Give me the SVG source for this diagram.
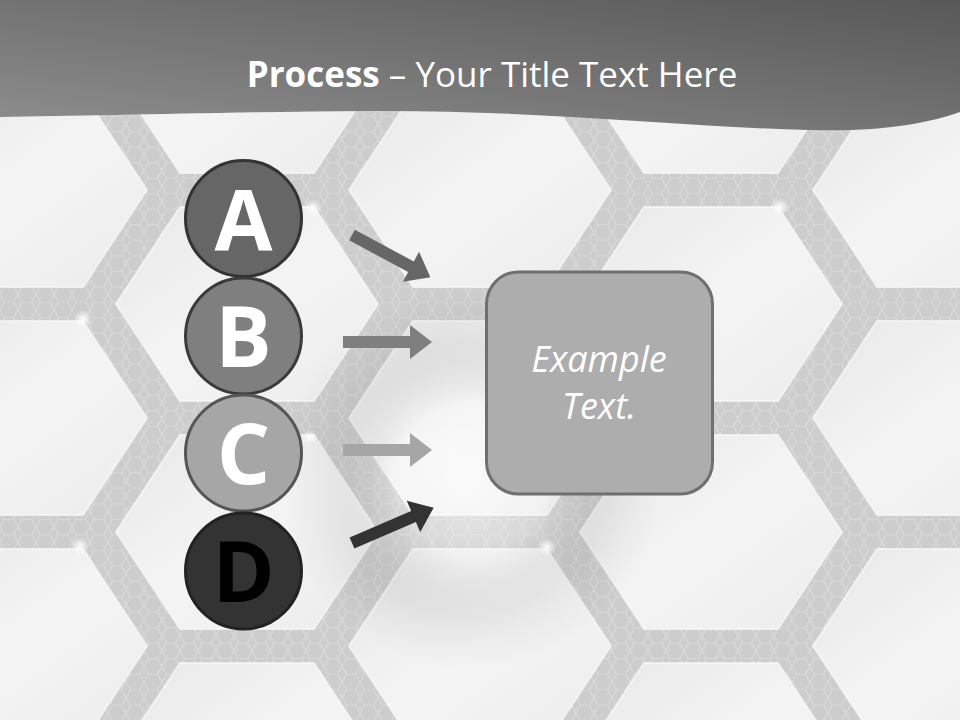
<svg xmlns="http://www.w3.org/2000/svg" xmlns:xlink="http://www.w3.org/1999/xlink" width="960" height="720" viewBox="0 0 960 720">
<style>
.cell{fill:url(#cellG);stroke:#fafafa;stroke-width:2;stroke-opacity:0.7}
.lbl{font-family:"Open Sans","Liberation Sans",sans-serif;font-weight:bold;font-size:84px;text-anchor:middle}
.circ{stroke-width:3}
.title{font-family:"Open Sans","Liberation Sans",sans-serif;font-size:35px;fill:#ffffff}
.box{fill:#adadad;stroke:#6f6f6f;stroke-width:3}
.btxt{font-family:"Open Sans","Liberation Sans",sans-serif;font-style:italic;font-size:36px;fill:#ffffff;text-anchor:middle}
</style>
<defs>
<linearGradient id="hdr" x1="0" y1="1" x2="1" y2="0">
<stop offset="0" stop-color="#8e8e8e"/>
<stop offset="1" stop-color="#585858"/>
</linearGradient>
<linearGradient id="cellG" x1="0" y1="0" x2="1" y2="1">
<stop offset="0" stop-color="#e8e8e8"/>
<stop offset="0.5" stop-color="#f4f4f4"/>
<stop offset="1" stop-color="#ececec"/>
</linearGradient>
<pattern id="honey" width="18" height="31" patternUnits="userSpaceOnUse">
<rect width="18" height="31" fill="#cdcdcd"/>
<path d="M0,0 L4.5,7.75 L13.5,7.75 L18,0 M4.5,7.75 L0,15.5 L4.5,23.25 L13.5,23.25 L18,15.5 L13.5,7.75 M4.5,23.25 L0,31 M13.5,23.25 L18,31" fill="none" stroke="#dadada" stroke-width="1.2"/>
</pattern>
<radialGradient id="swirl" cx="0.5" cy="0.5" r="0.5">
<stop offset="0" stop-color="#ffffff" stop-opacity="0.6"/>
<stop offset="0.4" stop-color="#ffffff" stop-opacity="0.2"/>
<stop offset="0.8" stop-color="#000000" stop-opacity="0.04"/>
<stop offset="1" stop-color="#000000" stop-opacity="0"/>
</radialGradient>
<radialGradient id="spark" cx="0.5" cy="0.5" r="0.5">
<stop offset="0" stop-color="#ffffff" stop-opacity="1"/>
<stop offset="1" stop-color="#ffffff" stop-opacity="0"/>
</radialGradient>
<path id="arr" d="M0,-6 H67 V-17 L89,0 L67,17 V6 H0 Z"/>
</defs>

<g id="background">
<rect width="960" height="720" fill="url(#honey)"/>
<g id="cells">
<polygon class="cell" points="-51,-135 83,-135 147,-38 83,59 -51,59 -115,-38"/>
<polygon class="cell" points="-51,93 83,93 147,190 83,287 -51,287 -115,190"/>
<polygon class="cell" points="-51,321 83,321 147,418 83,515 -51,515 -115,418"/>
<polygon class="cell" points="-51,549 83,549 147,646 83,743 -51,743 -115,646"/>
<polygon class="cell" points="413,-135 547,-135 611,-38 547,59 413,59 349,-38"/>
<polygon class="cell" points="413,93 547,93 611,190 547,287 413,287 349,190"/>
<polygon class="cell" points="413,321 547,321 611,418 547,515 413,515 349,418"/>
<polygon class="cell" points="413,549 547,549 611,646 547,743 413,743 349,646"/>
<polygon class="cell" points="877,-135 1011,-135 1075,-38 1011,59 877,59 813,-38"/>
<polygon class="cell" points="877,93 1011,93 1075,190 1011,287 877,287 813,190"/>
<polygon class="cell" points="877,321 1011,321 1075,418 1011,515 877,515 813,418"/>
<polygon class="cell" points="877,549 1011,549 1075,646 1011,743 877,743 813,646"/>
<polygon class="cell" points="180,-21 314,-21 378,76 314,173 180,173 116,76"/>
<polygon class="cell" points="180,207 314,207 378,304 314,401 180,401 116,304"/>
<polygon class="cell" points="180,435 314,435 378,532 314,629 180,629 116,532"/>
<polygon class="cell" points="180,663 314,663 378,760 314,857 180,857 116,760"/>
<polygon class="cell" points="644,-21 778,-21 842,76 778,173 644,173 580,76"/>
<polygon class="cell" points="644,207 778,207 842,304 778,401 644,401 580,304"/>
<polygon class="cell" points="644,435 778,435 842,532 778,629 644,629 580,532"/>
<polygon class="cell" points="644,663 778,663 842,760 778,857 644,857 580,760"/>
</g>
<circle cx="470" cy="480" r="190" fill="url(#swirl)"/>
<g id="sparkles">
<circle cx="313" cy="208" r="9" fill="url(#spark)"/>
<circle cx="83" cy="319" r="9" fill="url(#spark)"/>
<circle cx="80" cy="546" r="9" fill="url(#spark)"/>
<circle cx="780" cy="207" r="9" fill="url(#spark)"/>
<circle cx="547" cy="547" r="9" fill="url(#spark)"/>
<circle cx="310" cy="437" r="7" fill="url(#spark)"/>
</g>
</g>

<g id="header">
<path d="M0,0 H960 V112 C925,124 880,132 810,130 C680,127 540,110 370,111 C220,112 90,116 0,117 Z" fill="url(#hdr)"/>
<text class="title" x="492" y="87" text-anchor="middle"><tspan font-weight="bold">Process</tspan> – Your Title Text Here</text>
</g>

<g id="connectors">
<use xlink:href="#arr" transform="translate(352,235) rotate(28.3)" fill="#666666"/>
<use xlink:href="#arr" transform="translate(343,342)" fill="#7f7f7f"/>
<use xlink:href="#arr" transform="translate(343,450)" fill="#a6a6a6"/>
<use xlink:href="#arr" transform="translate(352,543) rotate(-23.4)" fill="#333333"/>
</g>

<g id="node-A">
<circle class="circ" cx="243.5" cy="218.5" r="58" fill="#666666" stroke="#333333"/>
<text class="lbl" x="243.5" y="250" fill="#ffffff">A</text>
</g>
<g id="node-B">
<circle class="circ" cx="243.5" cy="336" r="58" fill="#7f7f7f" stroke="#3a3a3a"/>
<text class="lbl" x="243.5" y="367" fill="#ffffff">B</text>
</g>
<g id="node-C">
<circle class="circ" cx="243.5" cy="453" r="58" fill="#a6a6a6" stroke="#555555"/>
<text class="lbl" x="243.5" y="484" fill="#ffffff">C</text>
</g>
<g id="node-D">
<circle class="circ" cx="243.5" cy="571" r="58" fill="#333333" stroke="#222222"/>
<text class="lbl" x="243.5" y="602" fill="#000000">D</text>
</g>

<g id="node-box">
<rect class="box" x="486.5" y="272" width="226" height="222" rx="32"/>
<text class="btxt" x="599" y="372">Example</text>
<text class="btxt" x="599" y="419">Text.</text>
</g>
</svg>
